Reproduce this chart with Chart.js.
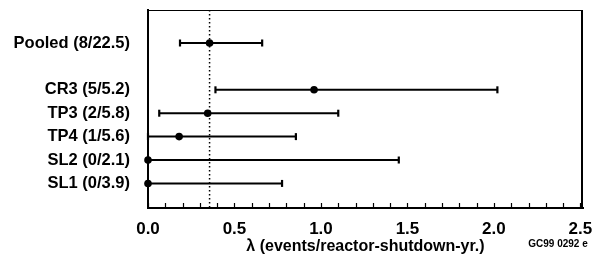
<!DOCTYPE html>
<html><head><meta charset="utf-8">
<script src="https://cdn.jsdelivr.net/npm/chart.js@4.4.1/dist/chart.umd.min.js"></script>
<style>html,body{margin:0;padding:0;background:#fff}#wrap{width:594px;height:256px}</style>
</head><body><div id="wrap"><canvas id="c"></canvas></div>
<script>
const rowLabels = ["Pooled (8/22.5)", "", "CR3 (5/5.2)", "TP3 (2/5.8)", "TP4 (1/5.6)", "SL2 (0/2.1)", "SL1 (0/3.9)"];
const rowIndex = [0, 2, 3, 4, 5, 6];
const means = [0.356, 0.96, 0.345, 0.18, 0, 0];
const lowers = [0.185, 0.39, 0.065, 0, 0, 0];
const uppers = [0.66, 2.02, 1.10, 0.855, 1.45, 0.775];
const pooledMean = 0.356;
const xTickValues = [0,0.1,0.2,0.3,0.4,0.5,0.6,0.7,0.8,0.9,1.0,1.1,1.2,1.3,1.4,1.5,1.6,1.7,1.8,1.9,2.0,2.1,2.2,2.3,2.4,2.5];
const xAxisTitle = "λ (events/reactor-shutdown-yr.)";
const figCode = "GC99 0292 e";

const FONT = "'Liberation Sans', Arial, Helvetica, sans-serif";
const datasets = [];
rowIndex.forEach((r, i) => {
  datasets.push({
    data: [{x: lowers[i], y: r}, {x: uppers[i], y: r}],
    showLine: true, borderColor: '#000', borderWidth: 2, clip: false,
    pointStyle: 'line', pointRotation: 90, pointRadius: 3.5,
    pointBorderColor: '#000', pointBorderWidth: 2.2, pointBackgroundColor: '#000'
  });
});
datasets.push({
  data: rowIndex.map((r, i) => ({x: means[i], y: r})),
  showLine: false, pointStyle: 'circle', pointRadius: 3.8, clip: false,
  pointBackgroundColor: '#000', pointBorderColor: '#000', pointBorderWidth: 0
});
datasets.push({
  data: [{x: pooledMean, y: -1.41}, {x: pooledMean, y: 7.05}],
  showLine: true, borderColor: '#000', borderWidth: 1.5, borderDash: [1.5, 2.5], pointRadius: 0
});

const decor = {
  id: 'decor',
  afterDraw(chart) {
    const ctx = chart.ctx, a = chart.chartArea, xs = chart.scales.x;
    ctx.save();
    ctx.strokeStyle = '#000';
    ctx.lineWidth = 1;
    ctx.beginPath(); ctx.moveTo(a.left, a.top + 0.5); ctx.lineTo(a.right, a.top + 0.5); ctx.stroke();
    ctx.lineWidth = 2;
    ctx.beginPath(); ctx.moveTo(a.right - 1, a.top); ctx.lineTo(a.right - 1, a.bottom); ctx.stroke();
    ctx.lineWidth = 1.2;
    xTickValues.forEach(v => {
      const px = Math.round(xs.getPixelForValue(v)) + 0.5;
      ctx.beginPath(); ctx.moveTo(px, a.bottom); ctx.lineTo(px, a.bottom - 5); ctx.stroke();
    });
    ctx.fillStyle = '#000';
    ctx.font = "bold 10px " + FONT;
    ctx.textAlign = 'center'; ctx.textBaseline = 'middle';
    ctx.fillText(figCode, 558, 244);
    ctx.restore();
  }
};

new Chart(document.getElementById('c'), {
  type: 'scatter',
  data: { datasets },
  plugins: [decor],
  options: {
    responsive: true, maintainAspectRatio: false, animation: false,
    layout: { padding: { left: 0, right: 11, top: 10, bottom: 0 } },
    plugins: { legend: { display: false }, tooltip: { enabled: false } },
    scales: {
      x: {
        type: 'linear', min: 0, max: 2.515,
        afterFit(s) { s.height = 48; s.paddingLeft = 0; s.paddingRight = 0; },
        afterBuildTicks(s) { s.ticks = xTickValues.map(v => ({value: v})); },
        grid: { display: true, drawOnChartArea: false, drawTicks: false },
        border: { display: true, color: '#000', width: 2 },
        ticks: {
          padding: 11, color: '#000', autoSkip: false, maxRotation: 0,
          font: { family: FONT, size: 17, weight: 'bold' },
          callback(v) { return Math.abs(v * 2 - Math.round(v * 2)) < 1e-6 ? Number(v).toFixed(1) : ''; }
        },
        title: { display: true, text: xAxisTitle, color: '#000', padding: 0,
          font: { family: FONT, size: 16, weight: 'bold' } }
      },
      y: {
        type: 'linear', min: -1.41, max: 7.05, reverse: true,
        afterFit(s) { s.width = 148; s.paddingTop = 0; s.paddingBottom = 0; },
        afterBuildTicks(s) { s.ticks = rowIndex.map(v => ({value: v})); },
        grid: { display: true, drawOnChartArea: false, drawTicks: false },
        border: { display: true, color: '#000', width: 2 },
        ticks: {
          padding: 18, color: '#000', autoSkip: false,
          font: { family: FONT, size: 16.5, weight: 'bold' },
          callback(v) { return rowLabels[Math.round(v)] || ''; }
        }
      }
    }
  }
});
</script></body></html>
